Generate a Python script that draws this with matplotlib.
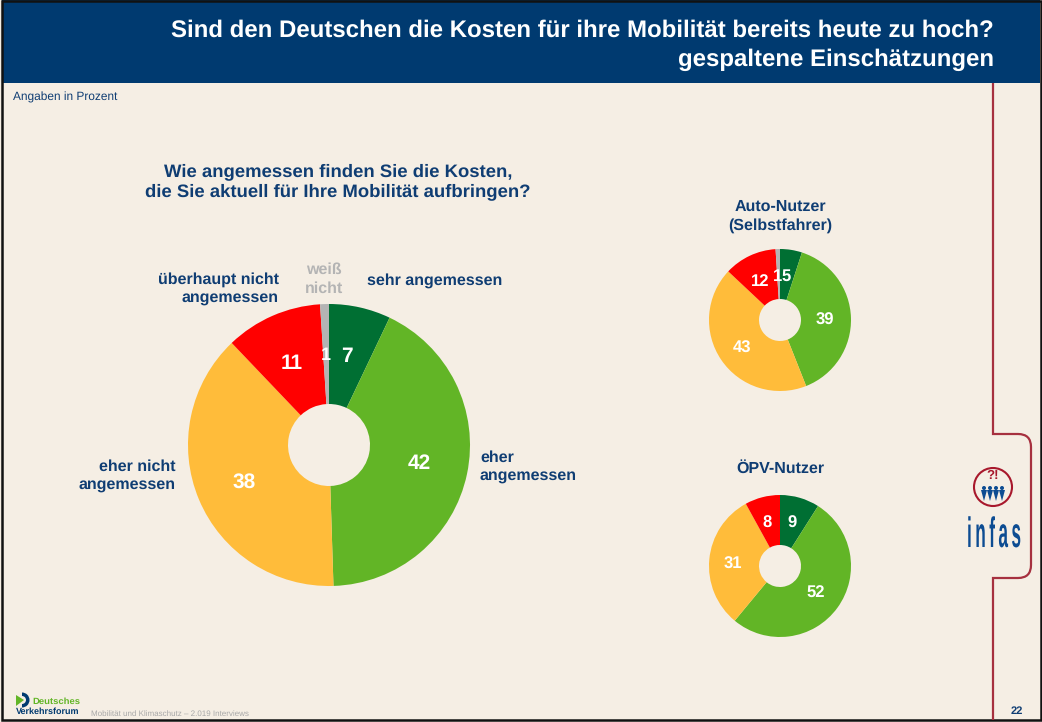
import matplotlib
matplotlib.use("Agg")
import matplotlib.pyplot as plt
import matplotlib.patches as mpatches
import matplotlib.patheffects as pe
from matplotlib.path import Path
from matplotlib.transforms import Affine2D

plt.rcParams['font.family'] = ['Liberation Sans', 'DejaVu Sans']
plt.rcParams['text.hinting'] = 'no_hinting'

W, H = 1042, 722
BG = '#F5EEE4'
NAVY = '#003A70'
LABEL = '#0F3D73'
BRACKET = '#A6303F'

pie_colors = ['#006F33', '#62B526', '#FFBC3A', '#FF0000', '#B4B4B4']

# share per answer, clockwise from the top
gesamt = [7, 42, 38, 11, 1]
auto = [5, 39, 43, 12, 1]
oepv = [9, 52, 31, 8, 0]

titel = ['Sind den Deutschen die Kosten für ihre Mobilität bereits heute zu hoch?',
         'gespaltene Einschätzungen']
frage = 'Wie angemessen finden Sie die Kosten,\ndie Sie aktuell für Ihre Mobilität aufbringen?'


class Schmal(pe.AbstractPathEffect):
    # squeezes a text sideways and stretches it up, the infas logo is very condensed
    def __init__(self, cx, base, sx, sy):
        super().__init__()
        self.cx = cx
        self.base = base
        self.sx = sx
        self.sy = sy

    def draw_path(self, renderer, gc, tpath, affine, rgbFace=None):
        squeeze = (Affine2D().translate(-self.cx, -self.base)
                   .scale(self.sx, self.sy).translate(self.cx, self.base))
        renderer.draw_path(gc, tpath, affine + squeeze, rgbFace)


def donut(fig, values, cx, cy, r, hole):
    # axes placed in pixels, exactly as big as the pie
    ax = fig.add_axes([(cx - r) / W, 1 - (cy + r) / H, 2 * r / W, 2 * r / H])
    ax.pie(values, colors=pie_colors, startangle=90, counterclock=False, radius=1,
           wedgeprops=dict(width=1 - hole / r, linewidth=0))
    ax.set_xlim(-1, 1)
    ax.set_ylim(-1, 1)
    ax.axis('off')
    return ax


fig = plt.figure(figsize=(W / 100, H / 100), dpi=100, facecolor=BG)
bg = fig.add_axes([0, 0, 1, 1])
bg.set_xlim(0, W)
bg.set_ylim(H, 0)
bg.axis('off')

# header
bg.add_patch(mpatches.Rectangle((2, 0), W - 4, 83, facecolor=NAVY, edgecolor='none'))
bg.text(994, 31, titel[0], color='white', fontsize=17.3, fontweight='bold', ha='right', va='center')
bg.text(994, 60, titel[1], color='white', fontsize=17.3, fontweight='bold', ha='right', va='center')

# frame
bg.add_patch(mpatches.Rectangle((1.5, 0.5), W - 3, H - 2.5, fill=False, edgecolor='#111111', linewidth=1.8))

# bracket on the right
verts = [(993, 83), (993, 434), (1018, 434), (1031, 434), (1031, 447), (1031, 565), (1031, 578),
         (1018, 578), (993, 578), (993, 720)]
codes = [Path.MOVETO, Path.LINETO, Path.LINETO, Path.CURVE3, Path.CURVE3, Path.LINETO,
         Path.CURVE3, Path.CURVE3, Path.LINETO, Path.LINETO]
bg.add_patch(mpatches.PathPatch(Path(verts, codes), fill=False, edgecolor=BRACKET, linewidth=1.6))

bg.text(13, 97, 'Angaben in Prozent', color=LABEL, fontsize=8.6, ha='left', va='center')
bg.text(338, 181.5, frage, color=LABEL, fontsize=13.3, fontweight='bold', ha='center', va='center',
        linespacing=1.29)

# labels main pie
bg.text(279, 289, 'überhaupt nicht\nangemessen', color=LABEL, fontsize=11.5, fontweight='bold',
        ha='right', va='center', multialignment='right', linespacing=1.34)
bg.text(324, 279, 'weiß\nnicht', color='#B4B4B4', fontsize=11.5, fontweight='bold', ha='center', va='center',
        linespacing=1.34)
bg.text(367, 281, 'sehr angemessen', color=LABEL, fontsize=11.5, fontweight='bold', ha='left', va='center')
bg.text(480, 467.5, 'eher\nangemessen', color=LABEL, fontsize=11.5, fontweight='bold', ha='left', va='center',
        linespacing=1.34)
bg.text(176, 476.5, 'eher nicht\nangemessen', color=LABEL, fontsize=11.5, fontweight='bold', ha='right', va='center',
        multialignment='right', linespacing=1.34)

bg.text(780, 216, 'Auto-Nutzer\n(Selbstfahrer)', color=LABEL, fontsize=11.5, fontweight='bold', ha='center',
        va='center', linespacing=1.34)
bg.text(780, 469, 'ÖPV-Nutzer', color=LABEL, fontsize=11.5, fontweight='bold', ha='center', va='center')

# footer
bg.text(91, 713.5, 'Mobilität und Klimaschutz – 2.019 Interviews', color='#A8A8A8', fontsize=5.8, ha='left', va='center')
bg.text(1017, 711, '22', color=LABEL, fontsize=8, fontweight='bold', ha='center', va='center')
bg.text(32, 702, 'Deutsches', color='#62B526', fontsize=6.8, fontweight='bold', ha='left', va='center')
bg.text(16, 712, 'Verkehrsforum', color=NAVY, fontsize=6.5, fontweight='bold', ha='left', va='center')
bg.add_patch(mpatches.Wedge((22, 700), 7.5, -90, 90, width=3.5, facecolor=NAVY, edgecolor='none'))
bg.add_patch(mpatches.Polygon([(16, 695), (24, 700), (16, 706)], facecolor='#62B526', edgecolor='none'))

# infas logo
bg.add_patch(mpatches.Circle((993, 487), 19, fill=False, edgecolor='#A8182C', linewidth=1.5))
bg.text(993, 476, '?!', color='#A8182C', fontsize=9.5, fontweight='bold', ha='center', va='center')
for px in (984, 990, 996, 1002):
    bg.add_patch(mpatches.Circle((px, 488), 2, facecolor='#0D4C92', edgecolor='none'))
    bg.add_patch(mpatches.Polygon([(px - 3, 490), (px + 3, 490), (px, 501)], facecolor='#0D4C92', edgecolor='none'))
logo = bg.text(994, 547, 'i\u2009n\u2009f\u2009a\u2009s', color='#0D4C92', fontsize=20, fontweight='bold',
               ha='center', va='baseline')
logo.set_path_effects([Schmal(994, H - 547, 0.62, 1.53)])

donut(fig, gesamt, 329, 445, 141, 41)
donut(fig, auto, 780, 320, 71, 21)
donut(fig, oepv, 780, 566, 71, 21)

# numbers go on top of the pies
top = fig.add_axes([0, 0, 1, 1])
top.set_xlim(0, W)
top.set_ylim(H, 0)
top.axis('off')
for x, y, s, v in [(347, 357, 15, gesamt[0]), (419, 464, 15, gesamt[1]), (244, 482, 15, gesamt[2]),
                   (292, 364, 15, gesamt[3]), (325.5, 355, 13, gesamt[4]),
                   (786.5, 276.5, 12, auto[0]), (825, 320, 12, auto[1]), (742, 348, 12, auto[2]),
                   (760, 282, 12, auto[3]), (777.5, 276.5, 12, auto[4]),
                   (792, 523, 12, oepv[0]), (816, 593, 12, oepv[1]), (733, 564, 12, oepv[2]),
                   (767, 523, 12, oepv[3])]:
    top.text(x, y, str(v), color='white', fontsize=s, fontweight='bold', ha='center', va='center')

fig.savefig('out.png', dpi=100, facecolor=BG)
